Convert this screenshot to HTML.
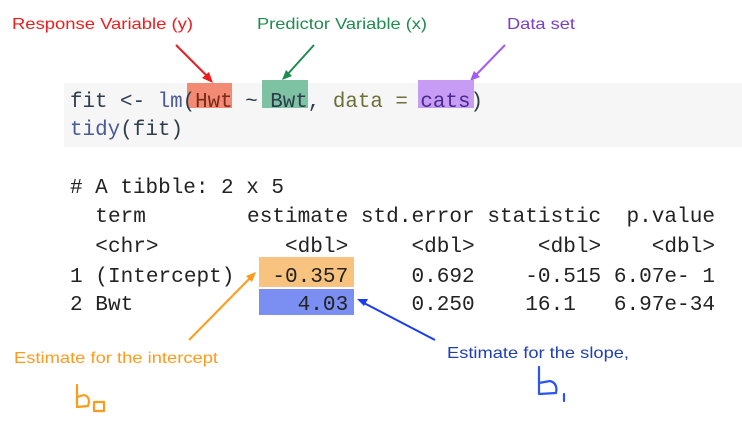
<!DOCTYPE html>
<html><head><meta charset="utf-8"><style>
html,body{margin:0;padding:0;background:#fff;width:742px;height:441px;overflow:hidden}
svg{display:block}
svg text{white-space:pre}
.lab{font-family:"Liberation Sans",sans-serif;font-size:16px}
.mono{font-family:"Liberation Mono",monospace;font-size:20.8px}
</style></head><body>
<svg width="742" height="441" viewBox="0 0 742 441">
<text class="lab" x="12" y="29" fill="#ee1c1c" textLength="181" lengthAdjust="spacingAndGlyphs">Response Variable (y)</text>
<text class="lab" x="257" y="29" fill="#1e8c4e" textLength="170" lengthAdjust="spacingAndGlyphs">Predictor Variable (x)</text>
<text class="lab" x="507" y="29" fill="#7a3fc4" textLength="68" lengthAdjust="spacingAndGlyphs">Data set</text>
<g stroke-width="2" fill="none">
<line x1="176" y1="45" x2="210" y2="79" stroke="#ee1c1c"/>
<polygon points="213,83 202,78 209,72" fill="#ee1c1c" stroke="none"/>
<line x1="314" y1="45" x2="286" y2="76" stroke="#1e8c4e"/>
<polygon points="282,80 286,70 292,76" fill="#1e8c4e" stroke="none"/>
<line x1="505" y1="45" x2="474" y2="77" stroke="#a25cf2"/>
<polygon points="470,81 474,71 480,77" fill="#a25cf2" stroke="none"/>
</g>
<rect x="64" y="83" width="678" height="64" fill="#f6f6f6"/>
<rect x="187" y="83" width="45" height="25" fill="#f28a74"/>
<rect x="262" y="80" width="46" height="28" fill="#7dc2a2"/>
<rect x="418" y="80" width="56" height="28" fill="#c69cf5"/>
<text class="mono" x="70" y="107" textLength="413" lengthAdjust="spacingAndGlyphs"><tspan fill="#2e3d4d">fit &lt;- </tspan><tspan fill="#4a5a92">lm</tspan><tspan fill="#2e3d4d">(</tspan><tspan fill="#7a2a1a">Hwt</tspan><tspan fill="#2e3d4d"> ~ Bwt, </tspan><tspan fill="#6e6e3a">data = </tspan><tspan fill="#4a2a8a">cats</tspan><tspan fill="#2e3d4d">)</tspan></text>
<text class="mono" x="70" y="135" textLength="113" lengthAdjust="spacingAndGlyphs"><tspan fill="#4a5a92">tidy</tspan><tspan fill="#2e3d4d">(fit)</tspan></text>
<rect x="259" y="257" width="95" height="30" fill="#f7c37e"/>
<rect x="259" y="289" width="95" height="26" fill="#7b8ef2"/>
<g class="mono" fill="#222">
<text x="70" y="193" textLength="214" lengthAdjust="spacingAndGlyphs"># A tibble: 2 x 5</text>
<text x="70" y="222" textLength="645" lengthAdjust="spacingAndGlyphs">  term        estimate std.error statistic  p.value</text>
<text x="70" y="252" textLength="645" lengthAdjust="spacingAndGlyphs">  &lt;chr&gt;          &lt;dbl&gt;     &lt;dbl&gt;     &lt;dbl&gt;    &lt;dbl&gt;</text>
<text x="70" y="282" textLength="645" lengthAdjust="spacingAndGlyphs">1 (Intercept)   -0.357     0.692    -0.515 6.07e- 1</text>
<text x="70" y="310" textLength="645" lengthAdjust="spacingAndGlyphs">2 Bwt             4.03     0.250    16.1   6.97e-34</text>
</g>
<line x1="189" y1="340" x2="252" y2="276" stroke="#ff9a1a" stroke-width="2"/>
<polygon points="256,272 252,282 246,276" fill="#ff9a1a"/>
<line x1="435" y1="340" x2="362" y2="302" stroke="#1a3cf0" stroke-width="2"/>
<polygon points="357,299 368,299 364,306" fill="#1a3cf0"/>
<text class="lab" x="14" y="363" fill="#ff9a1a" textLength="204" lengthAdjust="spacingAndGlyphs">Estimate for the intercept</text>
<text class="lab" x="447" y="358" fill="#1e3fb0" textLength="182" lengthAdjust="spacingAndGlyphs">Estimate for the slope,</text>
<g fill="none" stroke="#ff9a1a" stroke-width="2.2" stroke-linecap="round" stroke-linejoin="round">
<path d="M77,385 L77,407 L88,406 Q91,397 84,395 L77,397"/>
<rect x="94" y="402" width="10" height="9"/>
</g>
<g fill="none" stroke="#2b55f0" stroke-width="2.2" stroke-linecap="round" stroke-linejoin="round">
<path d="M539,367 L539,394 L556,393 Q558,383 550,381 L539,383"/>
<path d="M564,394 L564,401"/>
</g>
</svg>
</body></html>
